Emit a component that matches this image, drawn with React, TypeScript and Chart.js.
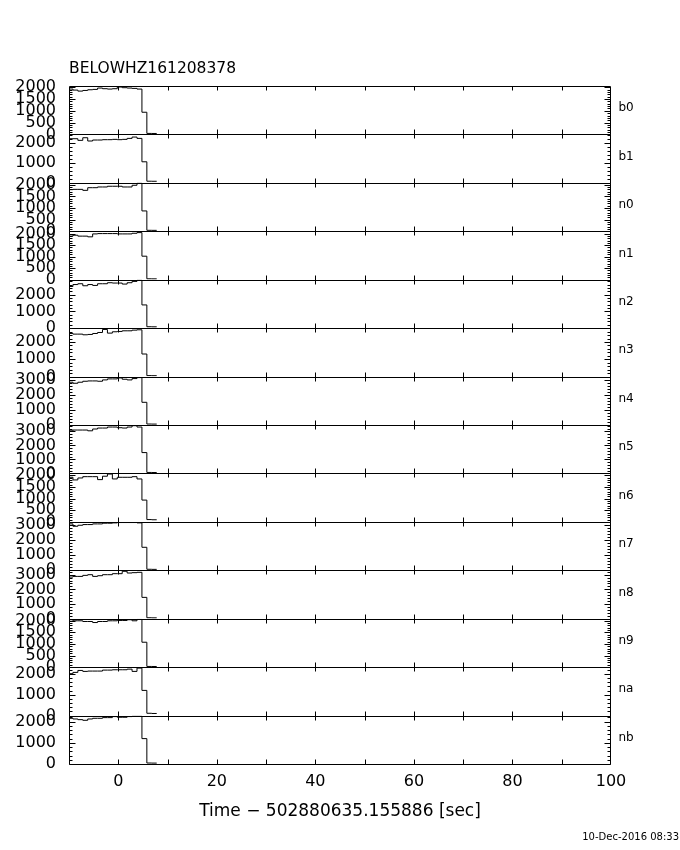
import React, { useEffect, useRef } from 'react';
import { Chart, registerables } from 'chart.js';

Chart.register(...registerables);

// ---------- data ----------
const TITLE = 'BELOWHZ161208378';
const X_TITLE = 'Time − 502880635.155886 [sec]';
const DATE_STAMP = '10-Dec-2016 08:33';

const DETECTORS = ['b0', 'b1', 'n0', 'n1', 'n2', 'n3', 'n4', 'n5', 'n6', 'n7', 'n8', 'n9', 'na', 'nb'];

// histogram bin edges (s)
const BIN_EDGES = [-10.2, -9.2, -8.2, -7.2, -6.2, -5.2, -4.2, -3.2, -2.2, -1.2, -0.2, 0.8, 1.8, 2.8, 3.8, 4.8, 5.8, 6.8, 7.8];

const X_LABEL_TICKS = [0, 20, 40, 60, 80, 100];
const X_MARK_TICKS = [0, 10, 20, 30, 40, 50, 60, 70, 80, 90];

const Y_MAX = [2050, 2450, 2080, 2100, 2900, 2800, 3200, 3450, 2080, 3180, 3300, 2080, 2320, 2280];
const Y_TICKS = [
  [0, 500, 1000, 1500, 2000],
  [0, 1000, 2000],
  [0, 500, 1000, 1500, 2000],
  [0, 500, 1000, 1500, 2000],
  [0, 1000, 2000],
  [0, 1000, 2000],
  [0, 1000, 2000, 3000],
  [0, 1000, 2000, 3000],
  [0, 500, 1000, 1500, 2000],
  [0, 1000, 2000, 3000],
  [0, 1000, 2000, 3000],
  [0, 500, 1000, 1500, 2000],
  [0, 1000, 2000],
  [0, 1000, 2000],
];
const Y_MINOR_STEP = [100, 200, 100, 100, 200, 200, 200, 200, 100, 200, 200, 100, 200, 200];

// counts per bin for each detector
const B0 = [1920, 1877, 1834, 1862, 1891, 1906, 1963, 1935, 1920, 1935, 2007, 1978, 1963, 1949, 1920, 939, 43, 40];
const B1 = [2233, 2233, 2150, 2283, 2117, 2167, 2167, 2184, 2184, 2200, 2184, 2200, 2250, 2317, 2250, 1066, 83, 80];
const N0 = [1789, 1801, 1801, 1758, 1872, 1872, 1903, 1903, 1934, 1934, 1934, 1903, 1903, 1976, 2075, 874, 42, 40];
const N1 = [1890, 1930, 1890, 1890, 1859, 1986, 2000, 2000, 2000, 2000, 1986, 1986, 1986, 2014, 2043, 1020, 40, 38];
const N2 = [2494, 2610, 2659, 2538, 2610, 2558, 2659, 2659, 2720, 2700, 2700, 2639, 2720, 2799, 2880, 1390, 85, 80];
const N3 = [2492, 2455, 2455, 2416, 2436, 2492, 2549, 2724, 2512, 2590, 2609, 2646, 2646, 2685, 2705, 1305, 56, 52];
const N4 = [2826, 2758, 2826, 2890, 2912, 2912, 2890, 2979, 3046, 3046, 3110, 3024, 2979, 3068, 3133, 1500, 65, 60];
const N5 = [3036, 3091, 3091, 3091, 3036, 3164, 3233, 3233, 3305, 3305, 3257, 3233, 3305, 3402, 3305, 1485, 70, 65];
const N6 = [1914, 1801, 1885, 1941, 1941, 1941, 1814, 1960, 2053, 1843, 1914, 1914, 1914, 1941, 1843, 935, 98, 90];
const N7 = [3046, 2891, 2957, 3002, 3002, 3046, 3046, 3091, 3091, 3113, 3135, 3135, 3135, 3135, 3113, 1510, 66, 60];
const N8 = [2838, 2884, 2884, 2954, 3000, 2884, 2930, 3000, 3000, 3069, 3069, 3231, 3115, 3138, 3161, 1455, 66, 60];
const N9 = [2036, 1991, 1991, 1961, 1961, 1916, 1961, 1961, 1991, 1991, 2005, 2005, 2036, 1991, 2051, 1070, 30, 28];
const NA = [2007, 2069, 2162, 2116, 2132, 2132, 2132, 2178, 2178, 2195, 2195, 2195, 2225, 2116, 2274, 1206, 110, 100];
const NB = [2152, 2120, 2088, 2057, 2120, 2152, 2152, 2184, 2184, 2232, 2200, 2200, 2232, 2248, 2248, 1195, 46, 42];

const SERIES = [B0, B1, N0, N1, N2, N3, N4, N5, N6, N7, N8, N9, NA, NB];

// ---------- styling ----------
const FONT = 'DejaVu Sans';
const W = 680;
const H = 850;

const framePlugin = {
  id: 'gbmFrames',
  afterDatasetsDraw(chart: any) {
    const ctx = chart.ctx as CanvasRenderingContext2D;
    const xs = chart.scales.x;
    const L = Math.round(chart.chartArea.left) + 0.5;
    const R = Math.round(chart.chartArea.right) - 0.5;
    ctx.save();
    ctx.strokeStyle = '#000';
    ctx.fillStyle = '#000';
    ctx.lineWidth = 1;
    DETECTORS.forEach((name, i) => {
      const ys = chart.scales['y' + i];
      const top = Math.round(ys.top) + 0.5;
      const bot = Math.round(ys.bottom) + 0.5;
      ctx.beginPath();
      ctx.moveTo(L, top);
      ctx.lineTo(R, top);
      ctx.lineTo(R, bot);
      ctx.lineTo(L, bot);
      ctx.closePath();
      ctx.stroke();
      // y ticks (left and right, inward)
      const step = Y_MINOR_STEP[i];
      const majors = Y_TICKS[i];
      ctx.beginPath();
      for (let v = 0; v <= Y_MAX[i] + 1e-6; v += step) {
        const p = Math.round(ys.getPixelForValue(v)) + 0.5;
        const len = majors.includes(v) ? 6 : 3;
        ctx.moveTo(L, p);
        ctx.lineTo(L + len, p);
        ctx.moveTo(R, p);
        ctx.lineTo(R - len, p);
      }
      // x ticks on top and bottom edges of each panel
      X_MARK_TICKS.forEach((t) => {
        const px = Math.round(xs.getPixelForValue(t)) + 0.5;
        ctx.moveTo(px, bot);
        ctx.lineTo(px, bot - 5);
        ctx.moveTo(px, top);
        ctx.lineTo(px, top + 4);
      });
      ctx.stroke();
      // detector label
      ctx.font = `12px "${FONT}"`;
      ctx.textAlign = 'left';
      ctx.textBaseline = 'middle';
      ctx.fillText(name, R + 8, (ys.top + ys.bottom) / 2 - 2);
    });
    // title
    ctx.font = `15.5px "${FONT}"`;
    ctx.textAlign = 'left';
    ctx.textBaseline = 'middle';
    ctx.fillText(TITLE, chart.chartArea.left, 69);
    // x axis title
    ctx.font = `17px "${FONT}"`;
    ctx.textAlign = 'center';
    ctx.fillText(X_TITLE, (chart.chartArea.left + chart.chartArea.right) / 2, 812);
    // date stamp
    ctx.font = `10px "${FONT}"`;
    ctx.textAlign = 'right';
    ctx.fillText(DATE_STAMP, W - 1, 837);
    ctx.restore();
  },
};

export default function App() {
  const ref = useRef<HTMLCanvasElement | null>(null);

  useEffect(() => {
    if (!ref.current) return;
    const scales: any = {
      x: {
        type: 'linear',
        position: 'bottom',
        min: -10,
        max: 100,
        grid: { display: false, drawTicks: false },
        border: { display: false },
        ticks: {
          color: '#000',
          font: { family: FONT, size: 16 },
          padding: 8,
          autoSkip: false,
          maxRotation: 0,
          callback: (v: any) => String(v),
        },
        afterBuildTicks: (s: any) => {
          s.ticks = X_LABEL_TICKS.map((v) => ({ value: v }));
        },
        afterFit: (s: any) => {
          s.height = 86;
        },
      },
    };
    DETECTORS.forEach((_, i) => {
      scales['y' + i] = {
        type: 'linear',
        position: 'left',
        stack: 'detectors',
        stackWeight: 1,
        weight: DETECTORS.length - i,
        min: 0,
        max: Y_MAX[i],
        grid: { display: false, drawTicks: false },
        border: { display: false },
        ticks: {
          color: '#000',
          font: { family: FONT, size: 16 },
          padding: 13,
          autoSkip: false,
          callback: (v: any) => String(v),
        },
        afterBuildTicks: (s: any) => {
          s.ticks = Y_TICKS[i].map((v) => ({ value: v }));
        },
        afterFit: (s: any) => {
          s.width = 69;
        },
      };
    });

    const datasets = SERIES.map((vals, i) => {
      const pts = vals.map((v, k) => ({ x: BIN_EDGES[k], y: v }));
      pts.push({ x: BIN_EDGES[vals.length], y: vals[vals.length - 1] });
      return {
        label: DETECTORS[i],
        data: pts,
        yAxisID: 'y' + i,
        xAxisID: 'x',
        borderColor: '#000',
        borderWidth: 1,
        pointRadius: 0,
        fill: false,
        stepped: true,
        tension: 0,
      };
    });

    const chart = new Chart(ref.current, {
      type: 'line',
      data: { datasets } as any,
      options: {
        responsive: false,
        animation: false,
        devicePixelRatio: 1,
        layout: { padding: { top: 86, left: 0, right: 69, bottom: 0 } },
        plugins: {
          legend: { display: false },
          title: { display: false },
          tooltip: { enabled: false },
        },
        scales,
      } as any,
      plugins: [framePlugin],
    });
    return () => chart.destroy();
  }, []);

  return (
    <div style={{ position: 'absolute', left: 0, top: 0, width: W, height: H, background: '#fff' }}>
      <canvas ref={ref} width={W} height={H} style={{ width: W, height: H, display: 'block' }} />
    </div>
  );
}
